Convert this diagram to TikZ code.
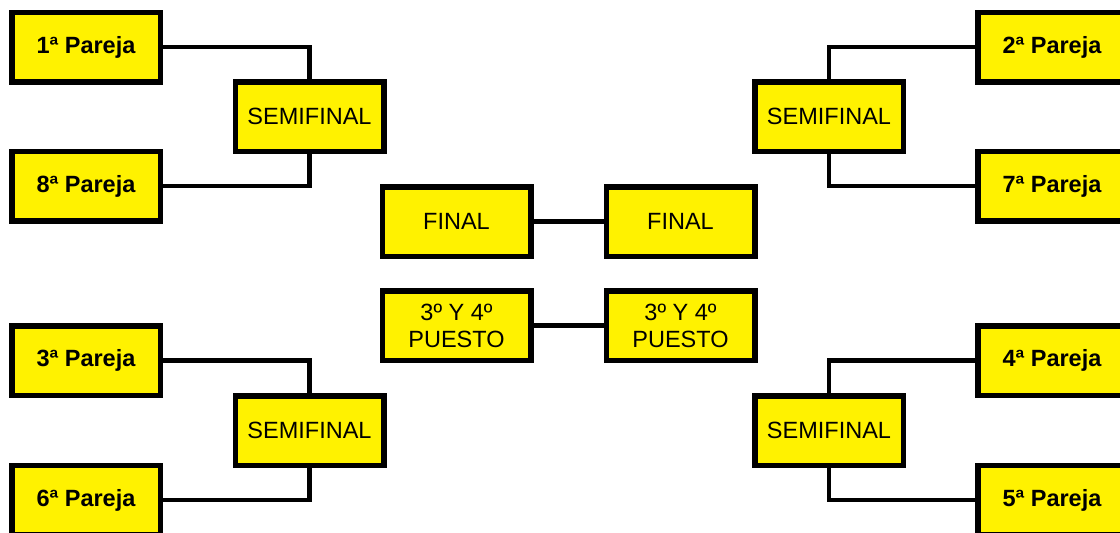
\documentclass[tikz,border=0pt]{standalone}
\usepackage{fontspec}
\setmainfont{Liberation Sans}
\begin{document}
\begin{tikzpicture}[x=1pt,y=-1pt,
  box/.style={draw=black,fill=yellow,line width=5.5pt,minimum width=148.5pt,minimum height=69.5pt,inner sep=0pt,align=center,font=\fontsize{23.5}{27}\selectfont},
  pair/.style={box,font=\fontsize{23.5}{27}\selectfont\bfseries},
  link/.style={line width=4.5pt}]
\useasboundingbox (0,0) rectangle (1120,533);
% left pairs
\node[pair] (p1) at (86,47) {1ª Pareja};
\node[pair] (p8) at (86,186) {8ª Pareja};
\node[pair] (p3) at (86,360.5) {3ª Pareja};
\node[pair] (p6) at (86,500) {6ª Pareja};
% right pairs
\node[pair] (p2) at (1052,47) {2ª Pareja};
\node[pair] (p7) at (1052,186) {7ª Pareja};
\node[pair] (p4) at (1052,360.5) {4ª Pareja};
\node[pair] (p5) at (1052,500) {5ª Pareja};
% semifinals
\node[box] (slt) at (309.5,116.5) {SEMIFINAL};
\node[box] (slb) at (309.5,430.5) {SEMIFINAL};
\node[box] (srt) at (829,116.5) {SEMIFINAL};
\node[box] (srb) at (829,430.5) {SEMIFINAL};
% finals
\node[box] (fl) at (456.5,221.5) {FINAL};
\node[box] (fr) at (680.5,221.5) {FINAL};
\node[box] (tl) at (456.5,325.5) {3º Y 4º\\PUESTO};
\node[box] (tr) at (680.5,325.5) {3º Y 4º\\PUESTO};
% connectors
\draw[link] (p1.east) -| (slt.north);
\draw[link] (p8.east) -| (slt.south);
\draw[link] (p3.east) -| (slb.north);
\draw[link] (p6.east) -| (slb.south);
\draw[link] (p2.west) -| (srt.north);
\draw[link] (p7.west) -| (srt.south);
\draw[link] (p4.west) -| (srb.north);
\draw[link] (p5.west) -| (srb.south);
\draw[link] (fl.east) -- (fr.west);
\draw[link] (tl.east) -- (tr.west);
\end{tikzpicture}
\end{document}
